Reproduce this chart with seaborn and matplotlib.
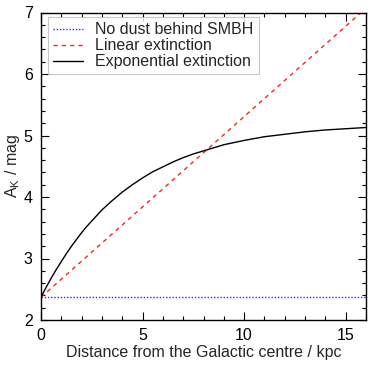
import numpy as np
import pandas as pd
import matplotlib
matplotlib.use("Agg")
import matplotlib.pyplot as plt
import seaborn as sns
from matplotlib.ticker import MultipleLocator

# Data
no_dust_x = [0, 16]
no_dust_y = [2.37, 2.37]

linear_x = [0, 16]
linear_y = [2.37, 7.07]

exp_x = [0, 0.25, 0.5, 0.75, 1, 1.25, 1.5, 1.75, 2, 2.25, 2.5, 2.75, 3, 3.5, 4, 4.5,
         5, 5.5, 6, 6.5, 7, 7.5, 8, 9, 10, 11, 12, 13, 14, 15, 16]
exp_y = [2.37, 2.53, 2.68, 2.82, 2.95, 3.08, 3.20, 3.31, 3.42, 3.52, 3.61, 3.70,
         3.79, 3.94, 4.08, 4.20, 4.31, 4.41, 4.49, 4.57, 4.64, 4.70,
         4.75, 4.85, 4.92, 4.98, 5.02, 5.06, 5.09, 5.11, 5.13]

labels = ["No dust behind SMBH", "Linear extinction", "Exponential extinction"]

sns.set_style("ticks")
plt.rcParams["font.family"] = ["Liberation Sans", "DejaVu Sans"]
plt.rcParams["mathtext.fontset"] = "custom"
plt.rcParams["mathtext.rm"] = "Liberation Sans"
plt.rcParams["mathtext.it"] = "Liberation Sans"

FS = 11.5

fig = plt.figure(figsize=(3.74, 3.74), dpi=100)
ax = fig.add_axes([41 / 374, 54 / 374, 325 / 374, 307.5 / 374])

df_nd = pd.DataFrame({"x": no_dust_x, "y": no_dust_y})
df_lin = pd.DataFrame({"x": linear_x, "y": linear_y})
df_exp = pd.DataFrame({"x": exp_x, "y": exp_y})

sns.lineplot(data=df_nd, x="x", y="y", ax=ax, color="#2a2aff", lw=1.0,
             linestyle=(0, (1, 1.3)), label=labels[0])
sns.lineplot(data=df_lin, x="x", y="y", ax=ax, color="#ff2020", lw=1.0,
             linestyle=(0, (3, 3)), label=labels[1])
sns.lineplot(data=df_exp, x="x", y="y", ax=ax, color="black", lw=1.0,
             label=labels[2])

ax.set_xlim(0, 16)
ax.set_ylim(2, 7)
ax.xaxis.set_major_locator(MultipleLocator(5))
ax.xaxis.set_minor_locator(MultipleLocator(1))
ax.yaxis.set_major_locator(MultipleLocator(1))
ax.yaxis.set_minor_locator(MultipleLocator(0.2))
ax.tick_params(which="both", direction="in", top=True, right=True,
               labelsize=FS, colors="black", width=0.8)
ax.tick_params(which="major", length=5.5, pad=6)
ax.tick_params(which="minor", length=3)
for s in ax.spines.values():
    s.set_color("black")
    s.set_linewidth(1.0)

ax.set_xlabel("Distance from the Galactic centre / kpc", fontsize=FS, labelpad=1)
ax.set_ylabel(r"A$_\mathrm{K}$ / mag", fontsize=FS, labelpad=1)

leg_w = 211 / 325
leg_h = 56 / 307.5
leg_x = (48.3 - 41) / 325
leg_top = 1 - (17.3 - 12.5) / 307.5
leg = ax.legend(loc="upper left", bbox_to_anchor=(leg_x, leg_top - leg_h, leg_w, leg_h),
                mode="expand", borderaxespad=0,
                fontsize=FS, frameon=True, fancybox=False, labelspacing=0.075,
                handlelength=1.9, handletextpad=0.75, borderpad=0.3)
leg.get_frame().set_edgecolor("#bbbbbb")
leg.get_frame().set_linewidth(0.8)

fig.savefig("out.png", dpi=100)
